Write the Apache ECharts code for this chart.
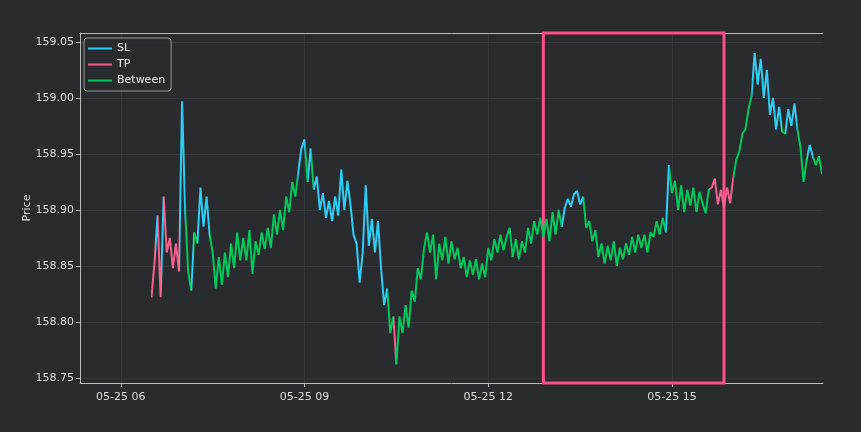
<!DOCTYPE html>
<html>
<head>
<meta charset="utf-8">
<script src="https://cdn.jsdelivr.net/npm/echarts@6/dist/echarts.min.js"></script>
<style>
html,body{margin:0;padding:0;background:#2a2b2e;}
#chart{width:861px;height:432px;}
</style>
</head>
<body>
<div id="chart"></div>
<script>
// price samples, one every 3 minutes from 05-25 06:30
const startTime = new Date(2024, 4, 25, 6, 30).getTime();
const stepMinutes = 3;
const prices = [
  158.822, 158.853, 158.895, 158.822, 158.912, 158.862, 158.875, 158.848, 158.870, 158.845,
  158.997, 158.900, 158.845, 158.828, 158.880, 158.870, 158.920, 158.885, 158.912, 158.878,
  158.862, 158.830, 158.858, 158.833, 158.862, 158.840, 158.870, 158.848, 158.880, 158.855,
  158.875, 158.855, 158.882, 158.843, 158.872, 158.860, 158.880, 158.865, 158.884, 158.866,
  158.896, 158.878, 158.900, 158.882, 158.912, 158.898, 158.925, 158.912, 158.935, 158.955,
  158.963, 158.925, 158.955, 158.918, 158.930, 158.900, 158.915, 158.893, 158.908, 158.890,
  158.912, 158.895, 158.936, 158.900, 158.926, 158.905, 158.878, 158.870, 158.835, 158.862,
  158.922, 158.868, 158.892, 158.862, 158.890, 158.848, 158.815, 158.830, 158.790, 158.805,
  158.762, 158.805, 158.790, 158.815, 158.795, 158.828, 158.818, 158.848, 158.838, 158.865,
  158.880, 158.862, 158.878, 158.838, 158.870, 158.855, 158.876, 158.852, 158.872, 158.856,
  158.866, 158.848, 158.858, 158.840, 158.855, 158.842, 158.856, 158.838, 158.852, 158.840,
  158.866, 158.855, 158.874, 158.862, 158.878, 158.864, 158.876, 158.884, 158.858, 158.874,
  158.856, 158.872, 158.862, 158.884, 158.870, 158.890, 158.878, 158.893, 158.876, 158.892,
  158.872, 158.898, 158.878, 158.900, 158.885, 158.902, 158.910, 158.903, 158.914, 158.917,
  158.905, 158.912, 158.884, 158.890, 158.872, 158.882, 158.858, 158.870, 158.852, 158.868,
  158.855, 158.872, 158.850, 158.866, 158.856, 158.870, 158.860, 158.876, 158.862, 158.878,
  158.866, 158.878, 158.862, 158.880, 158.876, 158.890, 158.878, 158.893, 158.880, 158.940,
  158.915, 158.926, 158.900, 158.922, 158.898, 158.918, 158.904, 158.920, 158.898, 158.916,
  158.906, 158.897, 158.918, 158.920, 158.928, 158.905, 158.918, 158.902, 158.920, 158.906,
  158.928, 158.945, 158.952, 158.968, 158.972, 158.990, 159.002, 159.040, 159.012, 159.035,
  159.000, 159.025, 158.985, 159.000, 158.972, 158.992, 158.970, 158.968, 158.990, 158.975,
  158.995, 158.972, 158.955, 158.925, 158.945, 158.958, 158.948, 158.940, 158.948, 158.932
];
// state of each stretch: [state, number of samples]
const stateRuns = [
  ['TP', 2], ['SL', 1], ['TP', 1], ['SL', 1], ['TP', 5],
  ['SL', 2], ['Between', 2], ['SL', 1], ['Between', 1], ['SL', 4],
  ['Between', 29], ['SL', 2], ['Between', 1], ['SL', 1], ['Between', 1], ['SL', 24],
  ['Between', 2], ['TP', 1], ['Between', 54], ['SL', 7], ['Between', 27], ['SL', 1],
  ['Between', 13], ['TP', 8], ['Between', 6], ['SL', 10], ['Between', 1], ['SL', 4],
  ['Between', 3], ['SL', 2], ['Between', 3]
];
const stateNames = ['SL', 'TP', 'Between'];
const stateColors = {SL: '#2ecdf5', TP: '#f2608e', Between: '#00c85a'};
const xTickHours = [6, 9, 12, 15];
const yTicks = [158.75, 158.80, 158.85, 158.90, 158.95, 159.00, 159.05];
const highlightRange = [[12, 54], [15, 51]];

const day = (h, m) => new Date(2024, 4, 25, h, m || 0).getTime();
const times = prices.map((p, i) => startTime + i * stepMinutes * 60000);
const lineData = prices.map((p, i) => [times[i], p]);

// colour pieces along time: segment ending at a sample takes that sample's state
let pieces = [];
let k = 0;
stateRuns.forEach(function (run, r) {
  const from = times[Math.max(k - 1, 0)];
  const to = times[k + run[1] - 1];
  const piece = {gte: from, color: stateColors[run[0]]};
  if (r === stateRuns.length - 1) piece.lte = to; else piece.lt = to;
  pieces.push(piece);
  k += run[1];
});

const pad2 = n => (n < 10 ? '0' : '') + n;
const labelStyle = {color: '#dddddd', fontSize: 11, fontFamily: 'DejaVu Sans'};
const xTickValues = xTickHours.map(h => day(h));
const option = {
  backgroundColor: '#2a2b2e',
  animation: false,
  grid: {left: 80, right: 38, top: 33, bottom: 49},
  legend: {
    data: stateNames,
    orient: 'vertical',
    left: 84, top: 38,
    icon: 'rect',
    itemWidth: 24, itemHeight: 2,
    itemGap: 5,
    padding: [5, 6, 5, 4],
    borderColor: '#9a9a9a', borderWidth: 1, borderRadius: 3,
    backgroundColor: 'rgba(42,43,46,0.85)',
    textStyle: {color: '#eeeeee', fontSize: 11, fontFamily: 'DejaVu Sans'}
  },
  visualMap: {
    type: 'piecewise', show: false, dimension: 0, seriesIndex: 0,
    pieces: pieces
  },
  xAxis: [{
    type: 'value',
    min: day(5, 20), max: day(17, 28),
    axisLine: {lineStyle: {color: '#bbbbbb', width: 1}},
    axisTick: {length: 4, lineStyle: {color: '#bbbbbb'}, customValues: xTickValues},
    axisLabel: Object.assign({margin: 9, customValues: xTickValues,
      formatter: function (v) {
        const d = new Date(v);
        return pad2(d.getMonth() + 1) + '-' + pad2(d.getDate()) + ' ' + pad2(d.getHours());
      }}, labelStyle),
    splitLine: {show: true, lineStyle: {color: '#353639', width: 1}}
  }, {
    type: 'value', position: 'top', min: 0, max: 1,
    axisLine: {show: true, onZero: false, lineStyle: {color: '#bbbbbb', width: 1}},
    axisTick: {show: false}, axisLabel: {show: false}, splitLine: {show: false}
  }],
  yAxis: {
    type: 'value',
    min: 158.7455, max: 159.058,
    name: 'Price', nameLocation: 'middle', nameGap: 47, nameRotate: 90,
    nameMoveOverlap: false,
    nameTextStyle: labelStyle,
    axisLine: {show: true, lineStyle: {color: '#bbbbbb', width: 1}},
    axisTick: {show: true, length: 4, lineStyle: {color: '#bbbbbb'}, customValues: yTicks},
    axisLabel: Object.assign({margin: 6, customValues: yTicks, formatter: v => v.toFixed(2)}, labelStyle),
    splitLine: {show: true, lineStyle: {color: '#353639', width: 1}}
  },
  series: [{
    name: 'Price',
    type: 'line',
    data: lineData,
    showSymbol: false,
    lineStyle: {width: 2},
    z: 2
  }].concat(stateNames.map(s => ({
    name: s, type: 'line', data: [], color: stateColors[s]
  }))).concat([{
    name: 'window', type: 'line', data: [], z: 5,
    markArea: {
      silent: true,
      itemStyle: {color: 'rgba(0,0,0,0)', borderColor: '#ff4f8a', borderWidth: 3},
      data: [[{xAxis: day(highlightRange[0][0], highlightRange[0][1])},
              {xAxis: day(highlightRange[1][0], highlightRange[1][1])}]]
    }
  }])
};

const chart = echarts.init(document.getElementById('chart'));
chart.setOption(option);
</script>
</body>
</html>
